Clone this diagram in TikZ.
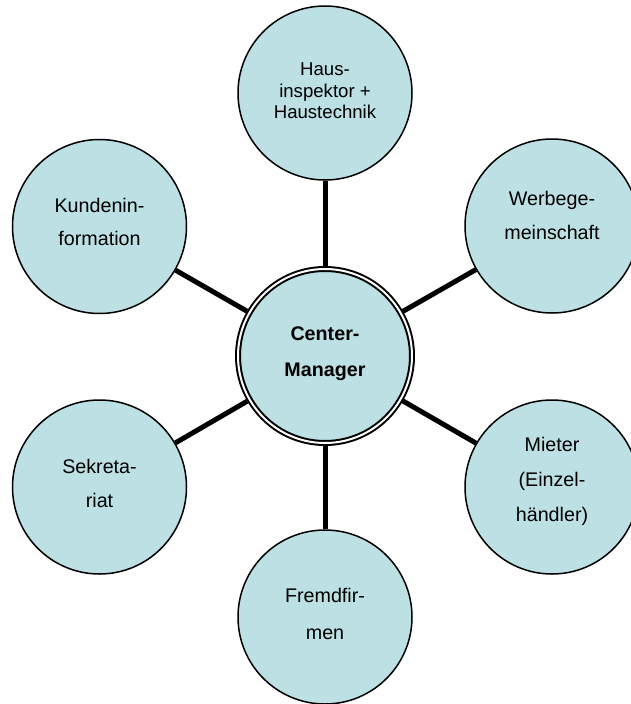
\documentclass[tikz,border=0pt]{standalone}
\usepackage{fontspec}
\setmainfont{Liberation Sans}
\definecolor{bubble}{RGB}{188,224,227}
\newcommand\lns[2]{\vtop{\baselineskip=#1\relax\lineskiplimit=-100pt\halign{\hfil##\hfil\cr#2\crcr}}}
\begin{document}
\begin{tikzpicture}[x=1pt,y=-1pt,
  sat/.style={circle, draw=black, line width=1.5pt, fill=bubble, minimum size=174pt, inner sep=0pt, outer sep=0.75pt},
  hub/.style={circle, draw=black, line width=2pt, double=white, double distance=2pt, fill=bubble, minimum size=174pt, inner sep=0pt, outer sep=3pt},
  txt/.style={anchor=base, inner sep=0pt, font=\fontsize{19.7}{24}\selectfont},
  link/.style={line width=5pt}]
\clip (0,0) rectangle (631,704);
\node[hub] (c0) at (325,356) {};
\node[sat] (c1) at (325,93) {};
\node[sat] (c2) at (552,226) {};
\node[sat] (c3) at (552,487) {};
\node[sat] (c4) at (325,617) {};
\node[sat] (c5) at (99.5,487) {};
\node[sat] (c6) at (99.5,226.5) {};
\foreach \i in {1,...,6} \draw[link] (c0) -- (c\i);
\node[txt, font=\fontsize{19.7}{24}\bfseries] (t0) at (325,340.7) {\lns{36pt}{Center-\cr Manager}};
\node[txt, font=\fontsize{18.6}{22}\selectfont] (t1) at (325,75.7) {\lns{21.6pt}{Haus-\cr inspektor +\cr Haustechnik}};
\node[txt] (t2) at (552,205) {\lns{34.3pt}{Werbege-\cr meinschaft}};
\node[txt] (t3) at (552,451.7) {\lns{35pt}{Mieter\cr (Einzel-\cr händler)}};
\node[txt] (t4) at (325,602) {\lns{37pt}{Fremdfir-\cr men}};
\node[txt] (t5) at (99.5,473.3) {\lns{34.4pt}{Sekreta-\cr riat}};
\node[txt] (t6) at (99.5,212) {\lns{33pt}{Kundenin-\cr formation}};
\end{tikzpicture}
\end{document}
